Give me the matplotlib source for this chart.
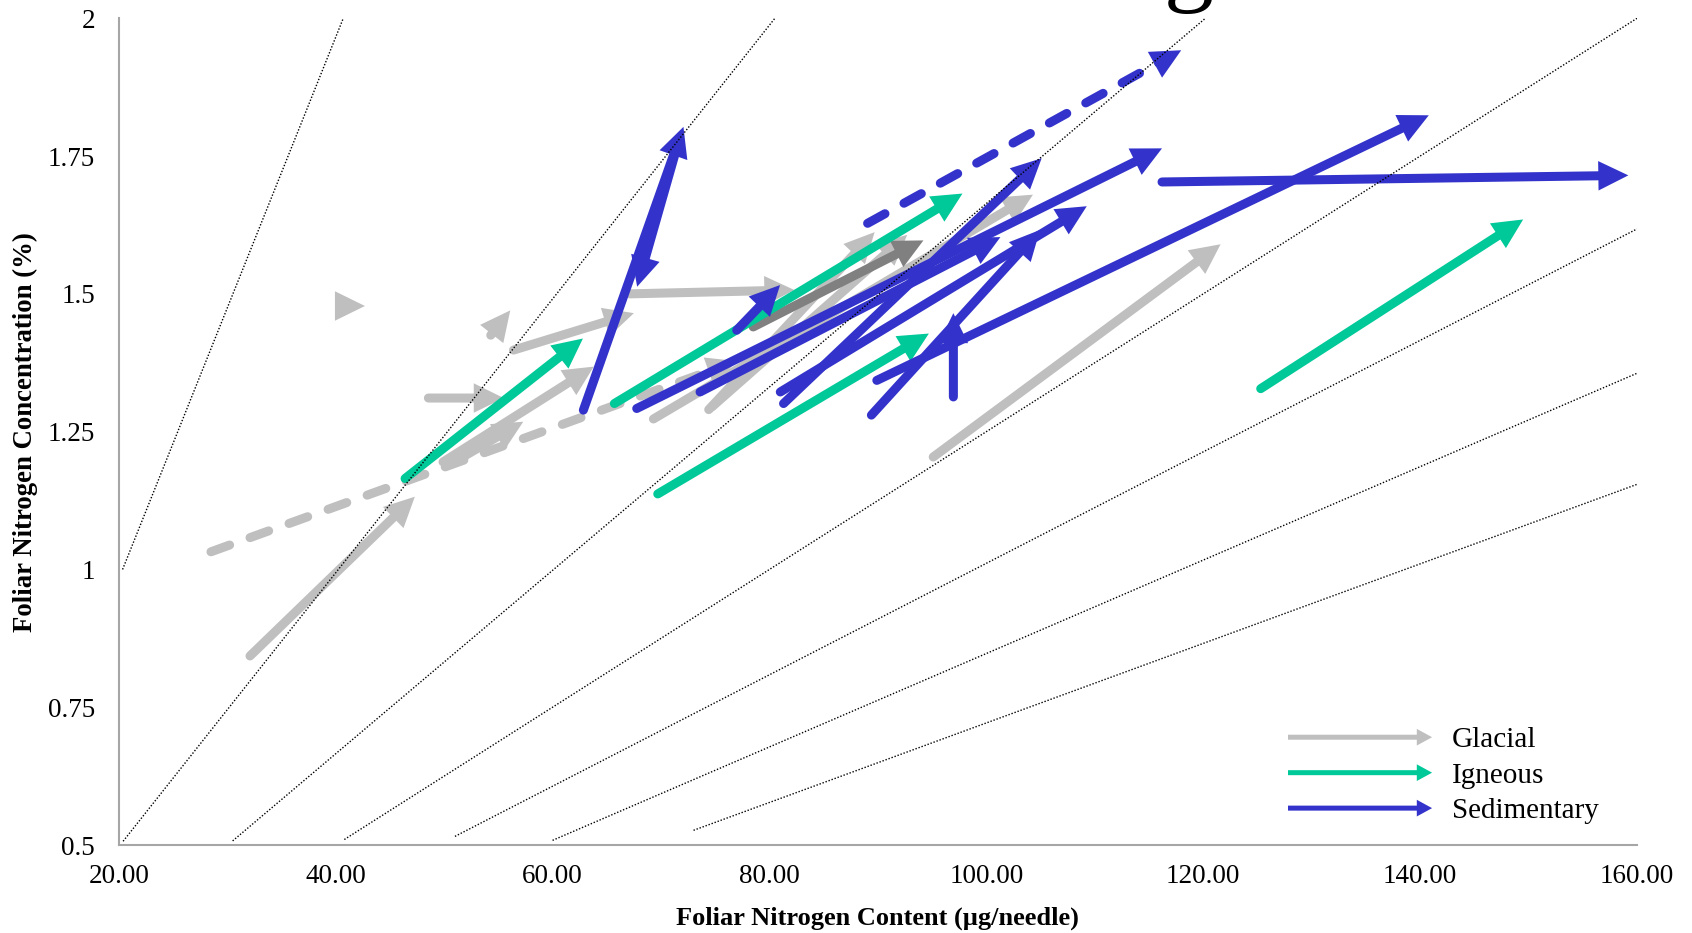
import numpy as np
import matplotlib
matplotlib.use("Agg")
import matplotlib.pyplot as plt
from matplotlib.patches import FancyArrowPatch
from matplotlib.lines import Line2D
from matplotlib.legend_handler import HandlerBase
from matplotlib.ticker import FuncFormatter

# ---------------- data ----------------
# reference lines of constant needle mass (content / concentration ratio)
ref_ratio = [20.35, 40.25, 60.1, 80.0, 98.9, 118.0, 138.6]
ref_x_start = [20.35, 20.4, 30.5, 40.8, 51.0, 60.0, 73.0]

# Glacial vectors (start -> end)
glacial_x0 = [32.1, 40.6, 54.3, 48.55, 56.4, 49.9, 50.5, 67.1, 69.3, 74.4, 74.7, 95.1]
glacial_y0 = [0.843, 1.478, 1.425, 1.311, 1.398, 1.195, 1.190, 1.500, 1.273, 1.290, 1.295, 1.204]
glacial_x1 = [47.3, 42.7, 56.1, 55.5, 67.5, 63.8, 57.3, 82.3, 104.3, 89.7, 92.7, 121.6]
glacial_y1 = [1.132, 1.478, 1.470, 1.311, 1.465, 1.368, 1.268, 1.507, 1.680, 1.612, 1.607, 1.590]

# Glacial dashed vector
glacial_dash_x = [28.5, 77.0]
glacial_dash_y = [1.032, 1.378]

# Glacial (dark) vector
glacial_dark_x = [78.5, 94.2]
glacial_dark_y = [1.440, 1.597]

# Igneous vectors
igneous_x0 = [46.4, 65.7, 69.7, 125.3]
igneous_y0 = [1.165, 1.301, 1.137, 1.328]
igneous_x1 = [62.8, 97.8, 94.7, 149.5]
igneous_y1 = [1.419, 1.682, 1.428, 1.635]

# Sedimentary vectors
sed_x0 = [62.84, 71.6, 76.98, 67.76, 73.6, 81.0, 81.3, 89.4, 89.9, 96.96, 116.2]
sed_y0 = [1.289, 1.775, 1.434, 1.292, 1.322, 1.322, 1.301, 1.280, 1.343, 1.313, 1.703]
sed_x1 = [72.07, 67.8, 80.98, 116.2, 101.3, 109.26, 105.1, 104.95, 140.8, 96.96, 159.2]
sed_y1 = [1.803, 1.513, 1.516, 1.764, 1.603, 1.659, 1.746, 1.616, 1.824, 1.465, 1.715]

# Sedimentary dashed vector
sed_dash_x = [89.05, 117.97]
sed_dash_y = [1.628, 1.942]

categories = ["Glacial", "Igneous", "Sedimentary"]
x_ticks = [20, 40, 60, 80, 100, 120, 140, 160]
y_ticks = [0.5, 0.75, 1.0, 1.25, 1.5, 1.75, 2.0]

# ---------------- style ----------------
C_GLACIAL = "#BFBFBF"
C_DARK = "#808080"
C_IGNEOUS = "#00C999"
C_SED = "#3333CC"
LW = 6.5
HL, HW = 21.6, 10.6
DASH = (0, (2.2, 2.4))

plt.rcParams["font.family"] = ["Liberation Serif", "DejaVu Serif"]

fig = plt.figure(figsize=(16.92, 9.33), dpi=100)
ax = fig.add_axes([0.0702, 0.0943, 0.8973, 0.8861])
ax.set_xlim(20, 160)
ax.set_ylim(0.5, 2.0)


def draw_arrow(x0, y0, x1, y1, color, dashed=False, z=3):
    ls = DASH if dashed else "-"
    ax.annotate("", xy=(x1, y1), xytext=(x0, y0),
                arrowprops=dict(arrowstyle="-", color=color, lw=LW, linestyle=ls,
                                shrinkA=0, shrinkB=HL * 0.6, capstyle="round",
                                joinstyle="round"),
                zorder=z, annotation_clip=False)
    ax.annotate("", xy=(x1, y1), xytext=(x0, y0),
                arrowprops=dict(arrowstyle=f"-|>,head_length={HL},head_width={HW}",
                                mutation_scale=1, color=color, lw=0,
                                shrinkA=0, shrinkB=0),
                zorder=z, annotation_clip=False)


# reference dotted lines
for r, xs in zip(ref_ratio, ref_x_start):
    xe = min(160.0, 2.0 * r)
    xx = np.array([xs, xe])
    ax.plot(xx, xx / r, color="black", lw=1.0, linestyle=(0, (1, 1.3)), zorder=10)

# glacial
draw_arrow(glacial_dash_x[0], glacial_dash_y[0], glacial_dash_x[1], glacial_dash_y[1],
           C_GLACIAL, dashed=True, z=2)
for a, b, c, d in zip(glacial_x0, glacial_y0, glacial_x1, glacial_y1):
    draw_arrow(a, b, c, d, C_GLACIAL, z=2)
draw_arrow(glacial_dark_x[0], glacial_dark_y[0], glacial_dark_x[1], glacial_dark_y[1],
           C_DARK, z=2.5)

# igneous
for a, b, c, d in zip(igneous_x0, igneous_y0, igneous_x1, igneous_y1):
    draw_arrow(a, b, c, d, C_IGNEOUS, z=3)

# sedimentary
for a, b, c, d in zip(sed_x0, sed_y0, sed_x1, sed_y1):
    draw_arrow(a, b, c, d, C_SED, z=4)
draw_arrow(sed_dash_x[0], sed_dash_y[0], sed_dash_x[1], sed_dash_y[1], C_SED, dashed=True, z=4)

# axes styling
for s in ["top", "right"]:
    ax.spines[s].set_visible(False)
for s in ["left", "bottom"]:
    ax.spines[s].set_color("#A6A6A6")
    ax.spines[s].set_linewidth(1.5)
ax.set_xticks(x_ticks)
ax.set_yticks(y_ticks)
ax.xaxis.set_major_formatter(FuncFormatter(lambda v, p: f"{v:.2f}"))
ax.yaxis.set_major_formatter(FuncFormatter(lambda v, p: f"{v:g}"))
ax.tick_params(axis="both", length=0, labelsize=19.5, colors="black")
ax.tick_params(axis="y", pad=17)
ax.tick_params(axis="x", pad=14)

ax.set_xlabel("Foliar Nitrogen Content (µg/needle)", fontsize=19, fontweight="bold")
ax.set_ylabel("Foliar Nitrogen Concentration (%)", fontsize=19.3, fontweight="bold")
ax.xaxis.label.set_va("center")
ax.yaxis.label.set_va("center")
ax.xaxis.set_label_coords(0.5, -0.089)
ax.yaxis.set_label_coords(-0.0612, 0.5)


# legend with arrow handles
class ArrowHandler(HandlerBase):
    def create_artists(self, legend, orig_handle, xdescent, ydescent, width, height,
                       fontsize, trans):
        y = height / 2 - ydescent
        x0 = -xdescent
        x1 = width - xdescent
        c = orig_handle.get_color()
        shaft = FancyArrowPatch((x0, y), (x1, y), arrowstyle="-", lw=3.6, color=c,
                                shrinkA=0, shrinkB=6, capstyle="butt", transform=trans)
        head = FancyArrowPatch((x0, y), (x1, y),
                               arrowstyle="-|>,head_length=11,head_width=6",
                               mutation_scale=1, lw=0, color=c, shrinkA=0, shrinkB=0,
                               transform=trans)
        return [shaft, head]


handles = [Line2D([], [], color=C_GLACIAL), Line2D([], [], color=C_IGNEOUS),
           Line2D([], [], color=C_SED)]
leg = fig.legend(handles, categories, handler_map={Line2D: ArrowHandler()},
                 loc="upper left", bbox_to_anchor=(1288 / 1692, 1 - 727 / 933),
                 frameon=False, fontsize=21, handlelength=4.94, handletextpad=0.67,
                 labelspacing=0.31, borderpad=0, borderaxespad=0)

# clipped title glyph at top (as in the reference, only its descender is visible)
fig.text(0.7027, 1.0075, "g", fontsize=72, ha="center", va="baseline")

fig.savefig("out.png", dpi=100)
